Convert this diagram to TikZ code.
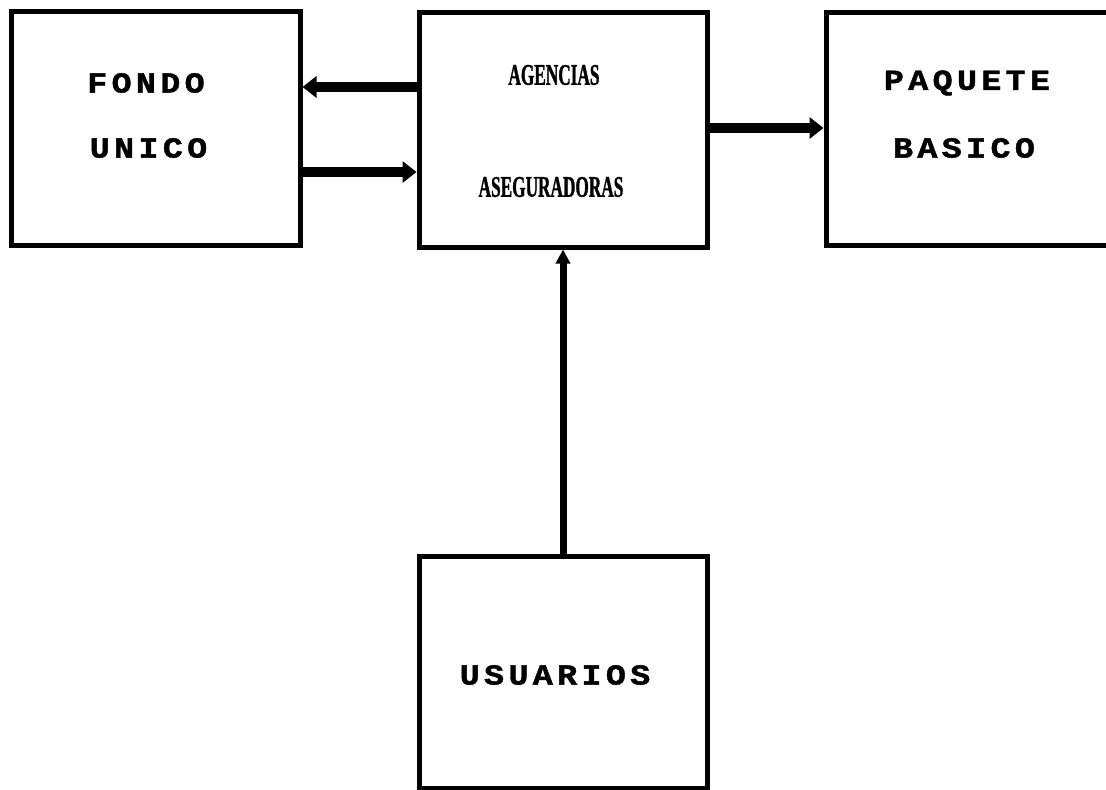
\documentclass[tikz,border=0pt]{standalone}
\usepackage{fontspec}
\usetikzlibrary{arrows.meta}
\newfontfamily\wideface[LetterSpace=15,FakeStretch=1.15,FakeBold=1.5]{Liberation Mono}
\newfontfamily\narrowface[FakeStretch=0.575,FakeBold=1]{Liberation Serif}
\begin{document}
\begin{tikzpicture}[x=1pt,y=-1pt,
  box/.style={draw, line width=5pt, inner sep=0pt},
  widelabel/.style={font=\wideface\bfseries\fontsize{29}{29}\selectfont, inner sep=0pt},
  narrowlabel/.style={font=\narrowface\bfseries\fontsize{30}{30}\selectfont, inner sep=0pt},
  fat/.style={line width=10pt, -{Triangle[width=21pt,length=14pt]}},
  slim/.style={line width=7pt, -{Triangle[width=14pt,length=14pt]}}]
\useasboundingbox (0,0) rectangle (1106,790);
\clip (0,0) rectangle (1106,790);
\fill[white] (0,0) rectangle (1106,790);

% boxes
\node[box, minimum width=289pt, minimum height=234pt] (fondo) at (155.5,128) {};
\node[box, minimum width=288pt, minimum height=235pt] (agencias) at (563,129.5) {};
\node[box, minimum width=314pt, minimum height=233pt] (paquete) at (983,128.5) {};
\node[box, minimum width=288pt, minimum height=232pt] (usuarios) at (563,672) {};

% labels
\node[widelabel] (fondoA) at (146,83) {FONDO};
\node[widelabel] (fondoB) at (148.5,148) {UNICO};
\node[narrowlabel] (agenciasA) at (554,75) {AGENCIAS};
\node[narrowlabel] (agenciasB) at (551,187) {ASEGURADORAS};
\node[widelabel] (paqueteA) at (967,83) {PAQUETE};
\node[widelabel] (paqueteB) at (964,148) {BASICO};
\node[widelabel] (usuariosA) at (555,675) {USUARIOS};

% connectors
\coordinate (toF) at ([yshift=42.5pt]agencias.west);
\coordinate (fromF) at ([yshift=-44pt]fondo.east);
\coordinate (toP) at ([yshift=1.5pt]agencias.east);
\draw[fat] (toF) -- (toF -| fondo.east);
\draw[fat] (fromF) -- (fromF -| agencias.west);
\draw[fat] (toP) -- (toP -| paquete.west);
\draw[slim] (usuarios.north) -- (agencias.south);
\end{tikzpicture}
\end{document}
